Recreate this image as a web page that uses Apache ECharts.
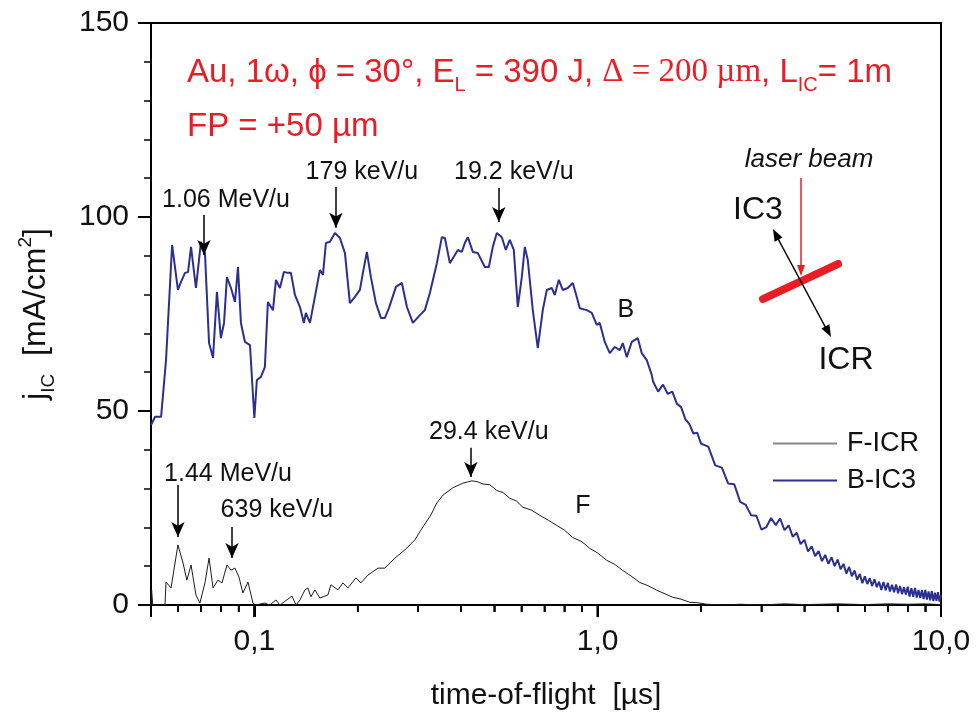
<!DOCTYPE html>
<html>
<head>
<meta charset="utf-8">
<script src="https://cdn.jsdelivr.net/npm/echarts@6/dist/echarts.min.js"></script>
<style>
  html, body { margin: 0; padding: 0; background: #fff; }
  #chart { width: 976px; height: 716px; }
</style>
</head>
<body>
<div id="chart"></div>
<script>
// B-IC3 trace, [time-of-flight us, j mA/cm2]
var bIC3 = [
  [0.05,46.4],[0.0514,48.5],[0.0535,48.5],[0.0553,63.1],[0.0576,92.8],[0.0599,81.2],[0.0611,83.2],[0.0628,85.6],
  [0.0641,85.8],[0.0654,92.3],[0.0676,81.7],[0.0699,93.6],[0.0718,90.7],[0.0738,67.5],[0.0758,63.7],[0.0778,80.7],
  [0.0799,68.8],[0.0816,72.7],[0.0832,84.5],[0.0855,81.7],[0.0878,78.1],[0.0896,87.1],[0.0914,72.7],[0.0939,67.8],
  [0.0971,67.0],[0.1,48.2],[0.1017,58.0],[0.1045,58.8],[0.1073,61.3],[0.1095,78.1],[0.1133,76.0],[0.1156,83.8],
  [0.1187,81.7],[0.1219,85.8],[0.1253,85.6],[0.1278,85.6],[0.1313,79.9],[0.1358,76.8],[0.1394,72.7],[0.1413,75.3],
  [0.1452,72.7],[0.1501,79.4],[0.1552,86.3],[0.1584,85.1],[0.1616,93.3],[0.166,93.6],[0.1717,95.9],[0.1775,94.6],
  [0.1836,90.7],[0.1898,77.8],[0.1963,79.4],[0.203,81.2],[0.2071,85.6],[0.2127,91.0],[0.2185,84.5],[0.226,77.8],
  [0.2337,74.0],[0.24,74.0],[0.2466,76.5],[0.2584,82.0],[0.269,83.0],[0.2782,76.8],[0.2896,72.7],[0.3035,74.7],
  [0.3138,76.0],[0.3245,80.4],[0.3401,88.1],[0.3517,94.8],[0.3589,94.6],[0.3711,88.1],[0.3837,90.2],[0.3915,91.5],
  [0.4021,91.0],[0.4103,93.3],[0.4186,94.8],[0.4329,91.0],[0.4477,90.7],[0.4692,87.1],[0.4819,87.1],[0.495,92.3],
  [0.5084,95.9],[0.5258,94.8],[0.54,91.5],[0.5547,94.1],[0.5698,91.5],[0.5852,76.8],[0.6012,84.5],[0.6134,92.3],
  [0.6258,88.9],[0.6472,76.0],[0.6692,66.2],[0.692,76.0],[0.7109,81.2],[0.7351,81.7],[0.75,79.9],[0.7704,83.8],
  [0.7913,81.2],[0.8183,81.7],[0.8462,83.0],[0.8692,79.4],[0.8869,76.5],[0.9295,76.0],[0.9611,75.3],[0.994,72.2],
  [1.0141,72.7],[1.0487,67.8],[1.0844,64.9],[1.1215,66.5],[1.1597,65.7],[1.1833,67.5],[1.2154,63.9],[1.2568,67.8],
  [1.3084,68.8],[1.344,64.9],[1.3898,63.1],[1.4372,59.3],
  [1.45,57.6],[1.5,55.0],[1.55,56.8],[1.6,54.4],[1.65,55.0],[1.7,51.9],[1.75,51.0],[1.8,47.9],[1.85,46.6],[1.9,44.2],
  [1.95,44.4],[2.0,41.6],[2.1,40.8],[2.2,36.0],[2.3,35.4],[2.4,31.3],[2.5,31.1],[2.6,26.6],[2.7,25.8],[2.8,23.1],
  [2.9,23.0],[3.0,19.4],[3.1,20.1],[3.2,22.4],[3.3,20.6],[3.4,22.3],[3.5,19.3],[3.6,20.5],[3.7,17.6],[3.8,18.6],
  [3.9,15.7],[4.0,16.8],[4.1,13.8],[4.2,15.1],[4.3,12.6],[4.4,13.9],[4.5,11.3],[4.6,12.9],[4.7,10.6],[4.8,12.3],
  [4.9,10.0],[5.0,11.7],[5.1,9.2],[5.2,10.6],[5.3,8.1],[5.4,9.8],[5.5,7.4],[5.6,8.9],[5.7,6.5],[5.8,8.0],
  [5.9,5.6],[6.0,7.4],[6.1,5.4],[6.2,6.9],[6.3,4.9],[6.4,6.6],[6.5,4.6],[6.6,6.0],[6.7,3.9],[6.8,5.9],
  [6.9,3.8],[7.0,5.7],[7.1,3.5],[7.2,5.2],[7.3,3.3],[7.4,5.3],[7.5,3.0],[7.6,4.9],[7.7,2.8],[7.8,4.6],
  [7.9,2.7],[8.0,4.7],[8.1,2.2],[8.2,4.3],[8.3,2.1],[8.4,4.4],[8.5,1.9],[8.6,3.9],[8.7,1.8],[8.8,3.8],
  [8.9,1.5],[9.0,3.9],[9.1,1.4],[9.2,3.5],[9.3,1.2],[9.4,3.6],[9.5,1.0],[9.6,3.2],[9.7,1.1],[9.8,3.3],
  [9.9,0.9],[10.0,2.6]
];

// F-ICR trace
var fICR = [
  [0.05,0],[0.0502,3.9],[0.0506,0],[0.0549,0],[0.0553,5.9],[0.0572,4.4],[0.0599,15.5],[0.062,10.8],[0.0636,6.4],
  [0.0654,10.3],[0.0676,2.6],[0.0694,0.5],[0.0718,5.7],[0.0738,12.1],[0.0758,4.4],[0.0783,6.4],[0.0805,5.7],
  [0.0832,10.3],[0.0855,9.0],[0.0878,9.5],[0.0902,7.2],[0.0926,3.1],[0.0958,5.9],[0.0991,0.5],[0.1007,0],
  [0.1073,0.5],[0.111,0],[0.1156,1.3],[0.1187,0],[0.1287,2.3],[0.1322,0],[0.1358,1.3],[0.1404,3.9],[0.1432,4.4],
  [0.1461,2.1],[0.1501,3.9],[0.1552,1.8],[0.1638,2.6],[0.1671,5.2],[0.1751,3.9],[0.1811,5.7],[0.1873,4.4],
  [0.1976,7.0],[0.2043,5.7],[0.2142,7.7],[0.229,9.5],[0.24,9.5],[0.2567,12.1],[0.2745,14.2],[0.2935,16.8],
  [0.3055,19.3],[0.3267,23.2],[0.3401,26.3],[0.3541,28.3],[0.3786,30.2],[0.4048,31.4],[0.43,32.0],[0.445,31.8],
  [0.4629,31.2],[0.485,31.0],[0.5084,29.5],[0.53,29.0],[0.5547,27.5],[0.58,26.8],[0.6052,25.2],[0.64,24.5],
  [0.6783,23.1],[0.72,21.8],[0.7602,20.5],[0.8,19.3],[0.8462,17.4],[0.9,16.3],[0.9483,14.6],[1.0,13.4],
  [1.0632,11.5],[1.12,10.5],[1.1833,8.9],[1.25,7.5],[1.3262,5.8],[1.4,5.0],[1.4862,3.8],[1.56,3.0],[1.6543,2.0],
  [1.75,1.5],[1.8542,0.7],[1.95,0.6],[2.078,0.2],[2.3444,0],[2.6,0.2],[3.0,0],[3.5,0.3],[4.0,0.1],[5.0,0.3],
  [6.0,0.1],[7.0,0.3],[8.0,0.2],[9.0,0.3],[10,0.1]
];

var xMajor = [0.1, 1, 10];
var xLabels = ['0,1', '1,0', '10,0'];
var xMinor = [0.05,0.06,0.07,0.08,0.09,0.2,0.3,0.4,0.5,0.6,0.7,0.8,0.9,2,3,4,5,6,7,8,9];

// energy arrows (data coords): x, arrow start y, arrow tip y
var arrows = [
  { x: 0.0713, from: 100.5, to: 90.2 },
  { x: 0.1728, from: 107.7, to: 97.2 },
  { x: 0.5153, from: 107.5, to: 98.7 },
  { x: 0.4271, from: 40.5, to: 33.0 },
  { x: 0.0599, from: 30.9, to: 17.5 },
  { x: 0.0861, from: 20.1, to: 12.1 }
];
var notes = [
  { name: '1.06 MeV/u', x: 0.0827, y: 104.4 },
  { name: '179 keV/u', x: 0.2057, y: 111.6 },
  { name: '19.2 keV/u', x: 0.5698, y: 111.6 },
  { name: '29.4 keV/u', x: 0.4819, y: 44.6 },
  { name: '1.44 MeV/u', x: 0.0838, y: 33.8 },
  { name: '639 keV/u', x: 0.1163, y: 24.5 }
];
var curveTags = [
  { name: 'B', x: 1.2073, y: 76.0 },
  { name: 'F', x: 0.9049, y: 25.5 }
];

var sans = '"Liberation Sans", Arial, sans-serif'
var serif = '"Liberation Serif", "Times New Roman", serif'
var red = '#ec1c24'

// x ticks as small filled rects on their own canvas layer
function tickSeries(values, len, width) {
  return {
    type: 'custom',
    silent: true,
    clip: false,
    zlevel: 2,
    z: 50,
    data: values.map(function (v) { return [v, 0] }),
    encode: { x: 0, y: 1 },
    renderItem: function (params, api) {
      var p = api.coord([api.value(0), 0])
      return {
        type: 'rect',
        shape: { x: p[0] - width / 2, y: p[1], width: width, height: len },
        style: { fill: '#000' }
      }
    }
  }
}

var chart = echarts.init(document.getElementById('chart'))

chart.setOption({
  animation: false,
  backgroundColor: '#fff',
  textStyle: { fontFamily: sans },
  grid: {
    left: 151, right: 35, top: 23, bottom: 111,
    show: true, borderColor: '#000', borderWidth: 2, backgroundColor: 'transparent'
  },
  legend: {
    orient: 'vertical',
    left: 773, top: 430, padding: 0,
    itemWidth: 64, itemHeight: 2, itemGap: 10,
    textStyle: { fontSize: 27, color: '#111', fontFamily: sans, padding: [0, 0, 0, 5] },
    data: [
      { name: 'F-ICR', icon: 'rect', itemStyle: { color: '#888' } },
      { name: 'B-IC3', icon: 'rect' }
    ]
  },
  xAxis: {
    type: 'log', logBase: 10, min: 0.05, max: 10,
    position: 'bottom',
    name: 'time-of-flight  [µs]',
    nameLocation: 'middle', nameGap: 76,
    nameTextStyle: { fontSize: 30, color: '#111', fontFamily: sans },
    axisLine: { show: true, onZero: false, lineStyle: { color: '#000', width: 2 } },
    axisTick: { show: true, inside: false, length: 12, lineStyle: { color: '#000', width: 2 } },
    minorTick: { show: true, splitNumber: 9, length: 7, lineStyle: { color: '#000', width: 1.5 } },
    axisLabel: {
      show: true, margin: 22, fontSize: 30, color: '#111', fontFamily: sans,
      showMinLabel: false,
      formatter: function (v) {
        for (var i = 0; i < xMajor.length; i++) {
          if (Math.abs(xMajor[i] - v) < 1e-9) return xLabels[i]
        }
        return ''
      }
    },
    splitLine: { show: false },
    minorSplitLine: { show: false }
  },
  yAxis: {
    type: 'value', min: 0, max: 150, interval: 50,
    name: '{m|j}{s|IC}{m|  [mA/cm}{p|2}{m|]}',
    nameLocation: 'middle', nameGap: 93,
    nameTextStyle: {
      color: '#111',
      rich: {
        m: { fontSize: 32, fontFamily: sans, color: '#111' },
        s: { fontSize: 19, fontFamily: sans, color: '#111', padding: [24, 0, 0, 0] },
        p: { fontSize: 19, fontFamily: sans, color: '#111', padding: [0, 0, 22, 0] }
      }
    },
    axisLine: { show: true, onZero: false, lineStyle: { color: '#000', width: 2 } },
    axisTick: { show: true, inside: false, length: 13, lineStyle: { color: '#000', width: 2 } },
    minorTick: { show: true, splitNumber: 5, length: 7, lineStyle: { color: '#000', width: 1.5 } },
    axisLabel: { margin: 22, fontSize: 30, color: '#111', fontFamily: sans },
    splitLine: { show: false },
    minorSplitLine: { show: false }
  },
  series: [
    {
      name: 'F-ICR',
      type: 'line',
      data: fICR,
      symbol: 'none',
      color: '#1c1c1c',
      lineStyle: { width: 1, color: '#1c1c1c' },
      z: 3,
      markPoint: {
        symbol: 'circle', symbolSize: 1,
        itemStyle: { color: 'transparent' },
        label: { show: true, position: 'inside', fontSize: 25, color: '#111', fontFamily: sans, formatter: '{b}' },
        data: notes.map(function (n) { return { name: n.name, coord: [n.x, n.y] } })
          .concat(curveTags.map(function (n) { return { name: n.name, coord: [n.x, n.y] } }))
      },
      markLine: {
        silent: true,
        symbol: ['none', 'arrow'],
        symbolSize: [10, 15],
        lineStyle: { color: '#000', width: 1.5, type: 'solid' },
        label: { show: false },
        data: arrows.map(function (a) {
          return [{ coord: [a.x, a.from] }, { coord: [a.x, a.to] }]
        })
      }
    },
    {
      name: 'B-IC3',
      type: 'line',
      data: bIC3,
      symbol: 'none',
      color: '#2b2f90',
      lineStyle: { width: 2, color: '#2b2f90' },
      z: 4
    },
    tickSeries(xMajor, 12, 2),
    tickSeries(xMinor, 7, 1.5)
  ]
})

var overlay = [
  {
    type: 'text', left: 187, top: 56,
    style: {
      text: '{a|Au, 1ω, ϕ = 30°, E}{s|L}{a| = 390 J, }{t|Δ = 200 µm}{a|, L}{s|IC}{a|= 1m}',
      fill: red,
      rich: {
        a: { fontSize: 33, fontFamily: sans, fill: red },
        s: { fontSize: 20, fontFamily: sans, fill: red, padding: [26, 0, 0, 0] },
        t: { fontSize: 33, fontFamily: serif, fill: red }
      }
    }
  },
  {
    type: 'text', left: 187, top: 110,
    style: { text: 'FP = +50 µm', fill: red, font: '33px ' + sans }
  },
  // inset: laser beam geometry
  {
    type: 'text', x: 809, y: 160,
    style: { text: 'laser beam', fill: '#111', font: 'italic 26px ' + sans, align: 'center', verticalAlign: 'middle' }
  },
  { type: 'line', shape: { x1: 801, y1: 178, x2: 801, y2: 268 }, style: { stroke: red, lineWidth: 1.5 } },
  { type: 'polygon', shape: { points: [[797, 265], [805, 265], [801, 276]] }, style: { fill: red } },
  { type: 'line', shape: { x1: 763, y1: 299, x2: 838, y2: 264 }, style: { stroke: red, lineWidth: 8, lineCap: 'round' } },
  { type: 'line', shape: { x1: 776, y1: 235, x2: 828, y2: 332 }, style: { stroke: '#000', lineWidth: 1.5 } },
  { type: 'polygon', shape: { points: [[773, 229], [774.6, 241.7], [782.6, 237.5]] }, style: { fill: '#000' } },
  { type: 'polygon', shape: { points: [[831, 337], [821.4, 328.5], [829.4, 324.3]] }, style: { fill: '#000' } },
  {
    type: 'text', x: 758, y: 210,
    style: { text: 'IC3', fill: '#111', font: '32px ' + sans, align: 'center', verticalAlign: 'middle' }
  },
  {
    type: 'text', x: 846, y: 360,
    style: { text: 'ICR', fill: '#111', font: '32px ' + sans, align: 'center', verticalAlign: 'middle' }
  }
]

// second copy of the x ticks, placed with the series' own coordinate conversion
function tickPos(v) {
  var q = chart.convertToPixel({ seriesIndex: 1 }, [v, 0])
  if (q && isFinite(q[0]) && isFinite(q[1])) return q
  var gx = chart.convertToPixel({ xAxisIndex: 0 }, v)
  var gy = chart.convertToPixel({ yAxisIndex: 0 }, 0)
  if (isFinite(gx) && isFinite(gy)) return [gx, gy]
  return null
}
function addTicks(values, len, width) {
  values.forEach(function (v) {
    var p = tickPos(v)
    if (!p) return
    overlay.push({
      type: 'rect', silent: true, zlevel: 3, z: 100,
      shape: { x: p[0] - width / 2, y: p[1], width: width, height: len },
      style: { fill: '#000' }
    })
  })
}
try {
  addTicks(xMajor, 12, 2)
  addTicks(xMinor, 7, 1.5)
} catch (e) {
  console.log('tick overlay skipped', e)
}

chart.setOption({ graphic: overlay })
</script>
</body>
</html>
